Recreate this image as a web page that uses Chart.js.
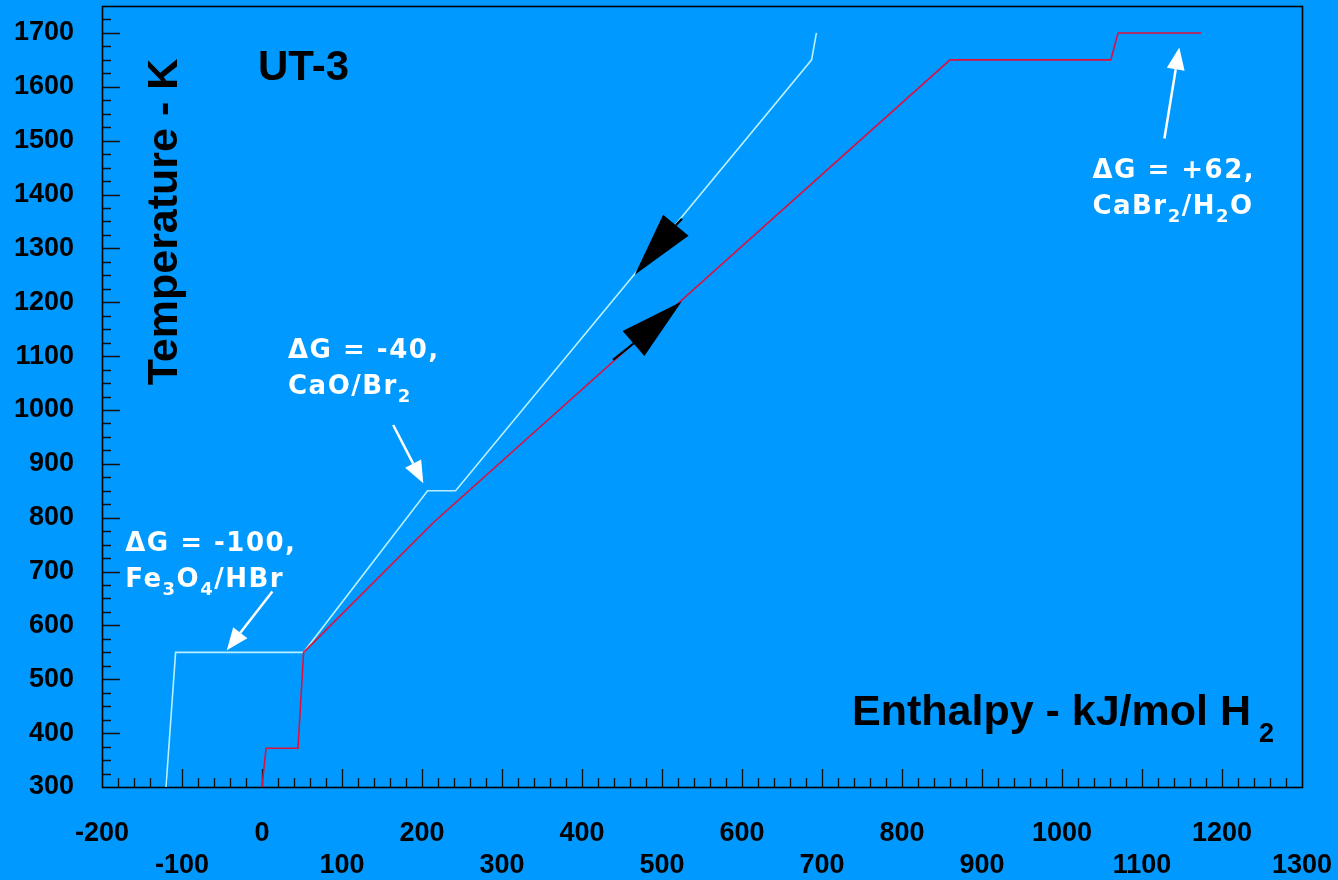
<!DOCTYPE html>
<html>
<head>
<meta charset="utf-8">
<script src="https://cdn.jsdelivr.net/npm/chart.js@4.4.0/dist/chart.umd.min.js"></script>
<style>
html,body{margin:0;padding:0;background:#0099FF;overflow:hidden}
#wrap{width:1338px;height:880px;position:relative}
</style>
</head>
<body>
<div id="wrap"><canvas id="c"></canvas></div>
<script>
// ---- data ----
const cyanEnthalpy    = [-120, -108, 52, 207, 242, 687, 693];
const cyanTemperature = [300, 550, 550, 850, 850, 1650, 1700];
const redEnthalpy     = [0, 5, 45, 52, 215, 860, 1061, 1070, 1174];
const redTemperature  = [300, 372, 372, 550, 792, 1650, 1650, 1700, 1700];

const xTickValues = [-200,-100,0,100,200,300,400,500,600,700,800,900,1000,1100,1200,1300];
const yTickValues = [300,400,500,600,700,800,900,1000,1100,1200,1300,1400,1500,1600,1700];

const xTitle = 'Enthalpy - kJ/mol H';
const xTitleSub = '2';
const yTitle = 'Temperature - K';
const cycleName = 'UT-3';

// annotation texts (segments: [text, isSubscript])
const noteTexts = [
  [[['\u0394G = -100,', 0]], [['Fe',0],['3',1],['O',0],['4',1],['/HBr',0]]],
  [[['\u0394G = -40,', 0]],  [['CaO/Br',0],['2',1]]],
  [[['\u0394G = +62,', 0]],  [['CaBr',0],['2',1],['/H',0],['2',1],['O',0]]]
];
// anchor (enthalpy, temperature) of each annotation's first baseline
const noteAnchorX = [-171, 32.5, 1038];
const noteAnchorY = [739, 1097, 1430];
// white pointer arrows: tail -> tip, in data units
const pointerTailX = [13, 164, 1128];
const pointerTailY = [663, 972, 1504];
const pointerTipX  = [-44, 201.6, 1146.6];
const pointerTipY  = [554, 864, 1673];
// black direction arrowheads on the lines: tip, base centre, shaft end
const headTipX   = [466, 524.6];
const headTipY   = [1251, 1201.6];
const headBaseX  = [517.3, 464.4];
const headBaseY  = [1343, 1123.4];
const headShaftX = [525, 438.8];
const headShaftY = [1355, 1093];

// ---- styles ----
const BG = '#0099FF';
const INK = '#000000';
const TICK_FONT = {family: '"Liberation Sans", Arial, sans-serif', size: 27, weight: 'bold', lineHeight: 32/27};
const NOTE_FONT = '"DejaVu Sans", sans-serif';

function xy(arrX, arrY){ return arrX.map((x,i)=>({x, y: arrY[i]})); }

function drawRich(ctx, x, y, segs){
  let cx = x;
  for (const [t, sub] of segs){
    ctx.font = 'bold ' + (sub ? 18 : 26) + 'px ' + NOTE_FONT;
    ctx.fillText(t, cx, y + (sub ? 8 : 0));
    cx += ctx.measureText(t).width;
  }
}

function noPad(s){ s.paddingLeft = 0; s.paddingRight = 0; s.paddingTop = 0; s.paddingBottom = 0; }

const deco = {
  id: 'deco',
  beforeDraw(chart){
    const {ctx, width, height} = chart;
    ctx.save();
    ctx.fillStyle = BG;
    ctx.fillRect(0, 0, width, height);
    ctx.restore();
  },
  beforeDatasetsDraw(chart){
    const {ctx, chartArea: a, scales: {x, y}} = chart;
    ctx.save();
    ctx.strokeStyle = '#111';
    ctx.lineWidth = 1.3;
    ctx.beginPath();
    for (let v = x.min + 20; v < x.max; v += 20){
      const px = Math.round(x.getPixelForValue(v)) + 0.5;
      const len = (v % 100 === 0) ? 18 : 9;
      ctx.moveTo(px, a.bottom); ctx.lineTo(px, a.bottom - len);
    }
    for (let v = y.min + 25; v < y.max; v += 25){
      const py = Math.round(y.getPixelForValue(v)) + 0.5;
      const len = (v % 100 === 0) ? 18 : 9;
      ctx.moveTo(a.left, py); ctx.lineTo(a.left + len, py);
    }
    ctx.stroke();
    ctx.lineWidth = 1.6;
    ctx.strokeStyle = '#000';
    ctx.strokeRect(Math.round(a.left)+0.5, Math.round(a.top)+0.5, Math.round(a.right-a.left), Math.round(a.bottom-a.top));
    ctx.restore();
  },
  afterDatasetsDraw(chart){
    const {ctx, chartArea: a, scales: {x, y}} = chart;
    ctx.save();
    // black direction arrowheads
    for (let i = 0; i < headTipX.length; i++){
      const tx = x.getPixelForValue(headTipX[i]), ty = y.getPixelForValue(headTipY[i]);
      const bx = x.getPixelForValue(headBaseX[i]), by = y.getPixelForValue(headBaseY[i]);
      const sx = x.getPixelForValue(headShaftX[i]), sy = y.getPixelForValue(headShaftY[i]);
      const dx = tx - bx, dy = ty - by, L = Math.hypot(dx, dy);
      const nx = -dy / L, ny = dx / L, w = 16.5;
      ctx.strokeStyle = '#000'; ctx.lineWidth = 2.2;
      ctx.beginPath(); ctx.moveTo(bx, by); ctx.lineTo(sx, sy); ctx.stroke();
      ctx.fillStyle = '#000';
      ctx.beginPath();
      ctx.moveTo(tx, ty);
      ctx.lineTo(bx + nx*w, by + ny*w);
      ctx.lineTo(bx - nx*w, by - ny*w);
      ctx.closePath(); ctx.fill();
    }
    // white pointer arrows
    ctx.strokeStyle = '#FFFFFF'; ctx.fillStyle = '#FFFFFF'; ctx.lineWidth = 2.5;
    for (let i = 0; i < pointerTipX.length; i++){
      const tx = x.getPixelForValue(pointerTipX[i]), ty = y.getPixelForValue(pointerTipY[i]);
      const fx = x.getPixelForValue(pointerTailX[i]), fy = y.getPixelForValue(pointerTailY[i]);
      const dx = tx - fx, dy = ty - fy, L = Math.hypot(dx, dy);
      const ux = dx / L, uy = dy / L, hl = 22, hw = 9;
      const bx = tx - ux*hl, by = ty - uy*hl;
      ctx.beginPath(); ctx.moveTo(fx, fy); ctx.lineTo(bx, by); ctx.stroke();
      ctx.beginPath();
      ctx.moveTo(tx, ty);
      ctx.lineTo(bx - uy*hw, by + ux*hw);
      ctx.lineTo(bx + uy*hw, by - ux*hw);
      ctx.closePath(); ctx.fill();
    }
    // annotation texts
    ctx.fillStyle = '#FFFFFF';
    ctx.textAlign = 'left'; ctx.textBaseline = 'alphabetic';
    try { ctx.letterSpacing = '1.5px'; } catch(e){}
    for (let i = 0; i < noteTexts.length; i++){
      const px = x.getPixelForValue(noteAnchorX[i]), py = y.getPixelForValue(noteAnchorY[i]);
      noteTexts[i].forEach((segs, k) => drawRich(ctx, px, py + k*36, segs));
    }
    try { ctx.letterSpacing = '0px'; } catch(e){}
    // titles
    ctx.fillStyle = INK;
    ctx.font = 'bold 42px "Liberation Sans", Arial, sans-serif';
    ctx.fillText(cycleName, a.left + 156, a.top + 74);
    ctx.font = 'bold 43px "Liberation Sans", Arial, sans-serif';
    const tx0 = a.left + 750, ty0 = a.bottom - 62;
    ctx.fillText(xTitle, tx0, ty0);
    const w0 = ctx.measureText(xTitle).width;
    ctx.font = 'bold 27px "Liberation Sans", Arial, sans-serif';
    ctx.fillText(xTitleSub, tx0 + w0 + 8, ty0 + 17);
    ctx.save();
    ctx.font = 'bold 43px "Liberation Sans", Arial, sans-serif';
    ctx.translate(a.left + 75, 222);
    ctx.rotate(-Math.PI/2);
    ctx.textAlign = 'center';
    ctx.fillText(yTitle, 0, 0);
    ctx.restore();
    ctx.restore();
  }
};

new Chart(document.getElementById('c'), {
  type: 'scatter',
  data: {
    datasets: [
      {label: 'Reverse', data: xy(redEnthalpy, redTemperature), showLine: true,
       borderColor: '#E0103C', borderWidth: 1.6, pointRadius: 0, tension: 0, fill: false},
      {label: 'Forward', data: xy(cyanEnthalpy, cyanTemperature), showLine: true,
       borderColor: '#B8F0FF', borderWidth: 1.6, pointRadius: 0, tension: 0, fill: false}
    ]
  },
  options: {
    responsive: true,
    maintainAspectRatio: false,
    animation: false,
    layout: {padding: {top: 6, right: 36, left: 0, bottom: 0}},
    plugins: {legend: {display: false}, tooltip: {enabled: false}},
    scales: {
      x: {
        type: 'linear', min: -200, max: 1300,
        afterBuildTicks(s){ s.ticks = xTickValues.map(v => ({value: v})); },
        afterFit(s){ s.height = 93; noPad(s); },
        grid: {display: false, drawTicks: false},
        border: {display: false},
        ticks: {
          autoSkip: false, maxRotation: 0, minRotation: 0, padding: 31,
          color: INK, font: TICK_FONT,
          callback(v){ const i = xTickValues.indexOf(v); return (i % 2 === 0) ? [String(v), ''] : ['', String(v)]; }
        }
      },
      y: {
        type: 'linear', min: 300, max: 1750,
        afterBuildTicks(s){ s.ticks = yTickValues.map(v => ({value: v})); },
        afterFit(s){ s.width = 102; noPad(s); },
        grid: {display: false, drawTicks: false},
        border: {display: false},
        ticks: {autoSkip: false, padding: 28, color: INK, font: TICK_FONT, callback(v){ return String(v); }}
      }
    }
  },
  plugins: [deco]
});
</script>
</body>
</html>
